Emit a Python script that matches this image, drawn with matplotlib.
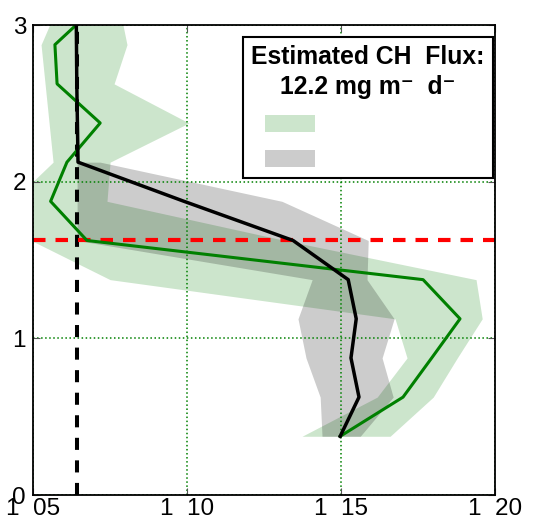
import numpy as np
import matplotlib.pyplot as plt
from matplotlib.patches import Patch, Rectangle
from matplotlib.legend_handler import HandlerPatch

plt.rcParams['font.family'] = ['Liberation Sans', 'DejaVu Sans']

# ---------------* profile data *----------------------

depth = [3.125, 2.875, 2.625, 2.375, 2.125, 1.875, 1.625, 1.375, 1.125, 0.875, 0.625, 0.375]
green_mid = [7.08, 5.71, 5.78, 7.18, 6.10, 5.57, 6.75, 17.66, 18.86, 17.94, 17.01, 14.97]
green_lo = [5.81, 5.26, 5.39, 5.52, 5.65, 4.32, 4.94, 7.50, 16.75, 17.14, 16.17, 13.73]
green_hi = [7.79, 8.05, 7.63, 10.06, 7.50, 7.40, 13.18, 19.38, 19.58, 18.77, 17.99, 16.59]

black_mid = [6.40, 6.41, 6.42, 6.44, 6.46, 9.90, 13.44, 15.23, 15.49, 15.32, 15.58, 14.97]

depth_gray = [2.125, 1.875, 1.625, 1.375, 1.125, 0.875, 0.625, 0.375]
gray_lo = [6.43, 6.43, 6.43, 14.06, 13.60, 13.86, 14.32, 14.38]
gray_hi = [7.18, 13.08, 15.88, 15.84, 16.72, 16.33, 16.69, 15.62]

background = 6.43
boundary = 1.625

xticks = [5, 10, 15, 20]
xticklabels = ['1  05', '1  10', '1  15', '1  20']
yticks = [0, 1, 2, 3]
legend_title = 'Estimated CH  Flux:\n12.2 mg m\u207b  d\u207b'


# -----------------* legend swatch, pushed right inside its slot *----------------

def swatch(legend, orig_handle, xdescent, ydescent, width, height, fontsize):
    shift = 10.0
    return Rectangle((-xdescent + shift, -ydescent), width - shift, height)


# ---------------* plotting *----------------------

fig = plt.figure(figsize=(5.33, 5.23), dpi=100)
ax = fig.add_axes([0.062, 0.0535, 0.867, 0.8985])

ax.fill_betweenx(depth, green_lo, green_hi, color='green', alpha=0.2, lw=0)
ax.fill_betweenx(depth_gray, gray_lo, gray_hi, color='black', alpha=0.2, lw=0)

ax.axvline(background, color='black', lw=2.9, dashes=(3, 2.6))
ax.axhline(boundary, color='red', lw=3.0, dashes=(3, 2.4))

ax.plot(green_mid, depth, color='green', lw=2.2)
ax.plot(black_mid, depth, color='black', lw=2.5)

ax.set_xlim(5, 20)
ax.set_ylim(0, 3)
ax.set_xticks(xticks)
ax.set_xticklabels(xticklabels)
ax.set_yticks(yticks)
ax.tick_params(direction='in', top=True, right=True, labelsize=17.5,
               color='#555555', length=5)
ax.tick_params(axis='x', pad=2)
ax.tick_params(axis='y', pad=5)
ax.grid(True, color='green', linestyle=':', lw=1.1)
for s in ax.spines.values():
    s.set_linewidth(1.3)

handles = [Patch(facecolor='green', alpha=0.2, edgecolor='none'),
           Patch(facecolor='black', alpha=0.2, edgecolor='none')]
leg = ax.legend(handles, [' ', ' '], title=legend_title,
                loc='upper right', bbox_to_anchor=(493 / 533, 1 - 37 / 523),
                bbox_transform=fig.transFigure, borderaxespad=0,
                fontsize=15, handlelength=3.05, handleheight=0.87,
                labelspacing=0.75, fancybox=False, framealpha=1,
                edgecolor='black', alignment='left', borderpad=0.4,
                handler_map={Patch: HandlerPatch(patch_func=swatch)},
                title_fontproperties={'weight': 'bold', 'size': 17.8})
leg.get_frame().set_linewidth(1.5)
leg.get_title().set_ha('center')
leg.get_title().set_linespacing(1.3)

fig.savefig('out.png', dpi=100)
